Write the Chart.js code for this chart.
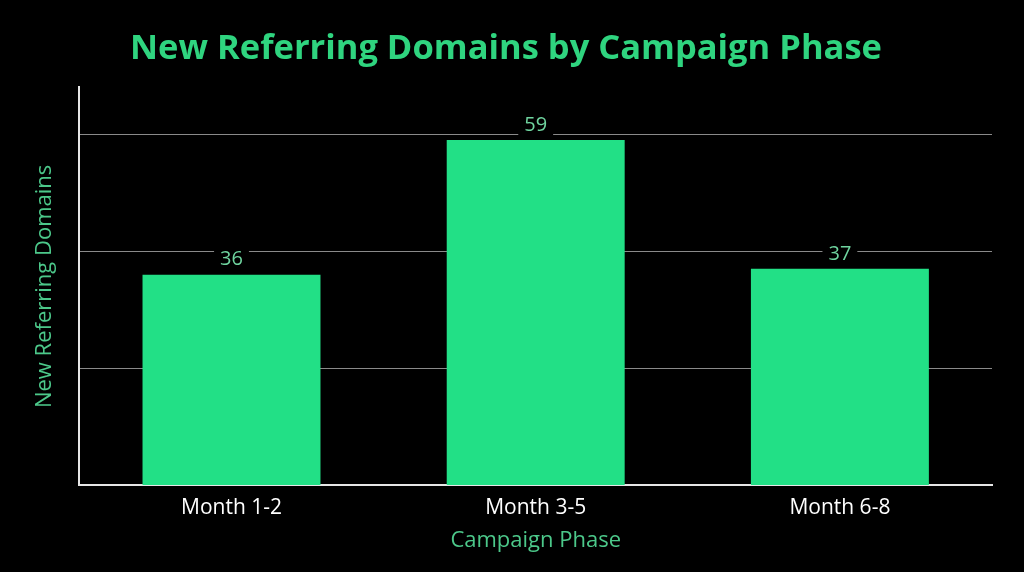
<!DOCTYPE html>
<html>
<head>
<meta charset="utf-8">
<script src="https://cdn.jsdelivr.net/npm/chart.js@4/dist/chart.umd.min.js"></script>
<style>
  html, body { margin: 0; padding: 0; background: #000; }
  #wrap { width: 1024px; height: 572px; position: relative; }
</style>
</head>
<body>
<div id="wrap"><canvas id="c"></canvas></div>
<script>
const categories = ['Month 1-2', 'Month 3-5', 'Month 6-8'];
const newDomains = [36, 59, 37];
const chartTitle = 'New Referring Domains by Campaign Phase';
const xTitle = 'Campaign Phase';
const yTitle = 'New Referring Domains';

const FONT = "'Open Sans', 'Noto Sans', sans-serif";

const valueLabels = {
  id: 'valueLabels',
  afterDatasetsDraw(chart) {
    const ctx = chart.ctx;
    const meta = chart.getDatasetMeta(0);
    ctx.save();
    ctx.font = '20px ' + FONT;
    ctx.textAlign = 'center';
    ctx.textBaseline = 'middle';
    meta.data.forEach((bar, i) => {
      const txt = String(chart.data.datasets[0].data[i]);
      const w = ctx.measureText(txt).width + 12;
      const y = bar.y - 15;
      ctx.fillStyle = '#000';
      ctx.fillRect(bar.x - w / 2, y - 12, w, 24);
      ctx.fillStyle = '#6fd49f';
      ctx.fillText(txt, bar.x, y);
    });
    ctx.restore();
  }
};

new Chart(document.getElementById('c'), {
  type: 'bar',
  data: {
    labels: categories,
    datasets: [{
      data: newDomains,
      backgroundColor: '#22e086',
      borderWidth: 0,
      barPercentage: 0.585,
      categoryPercentage: 1.0
    }]
  },
  options: {
    responsive: true,
    maintainAspectRatio: false,
    animation: false,
    layout: { padding: { left: 20, right: 32, top: 0, bottom: 0 } },
    plugins: {
      legend: { display: false },
      tooltip: { enabled: false },
      title: {
        display: true,
        text: chartTitle,
        color: '#2fd47f',
        font: { family: FONT, size: 34.5, weight: 'bold' },
        padding: { top: 28, bottom: 18 }
      }
    },
    scales: {
      x: {
        grid: { display: false, drawTicks: false },
        border: { display: true, color: '#e6e6e6', width: 2 },
        ticks: { color: '#ffffff', font: { family: FONT, size: 21 }, padding: 10 },
        title: {
          display: true,
          text: xTitle,
          color: '#4cc88a',
          font: { family: FONT, size: 22 },
          padding: { top: -3, bottom: 18 }
        }
      },
      y: {
        min: 0,
        max: 68,
        grid: {
          drawTicks: false,
          color: (c) => (c.tick && c.tick.value > 0 && c.tick.value % 20 === 0) ? '#8a8a8a' : 'rgba(0,0,0,0)',
          lineWidth: 1
        },
        border: { display: true, color: '#e6e6e6', width: 2 },
        ticks: { display: false, stepSize: 20 },
        title: {
          display: true,
          text: yTitle,
          color: '#4cc88a',
          font: { family: FONT, size: 22 },
          padding: { top: 12, bottom: 21 }
        }
      }
    }
  },
  plugins: [valueLabels]
});
</script>
</body>
</html>
